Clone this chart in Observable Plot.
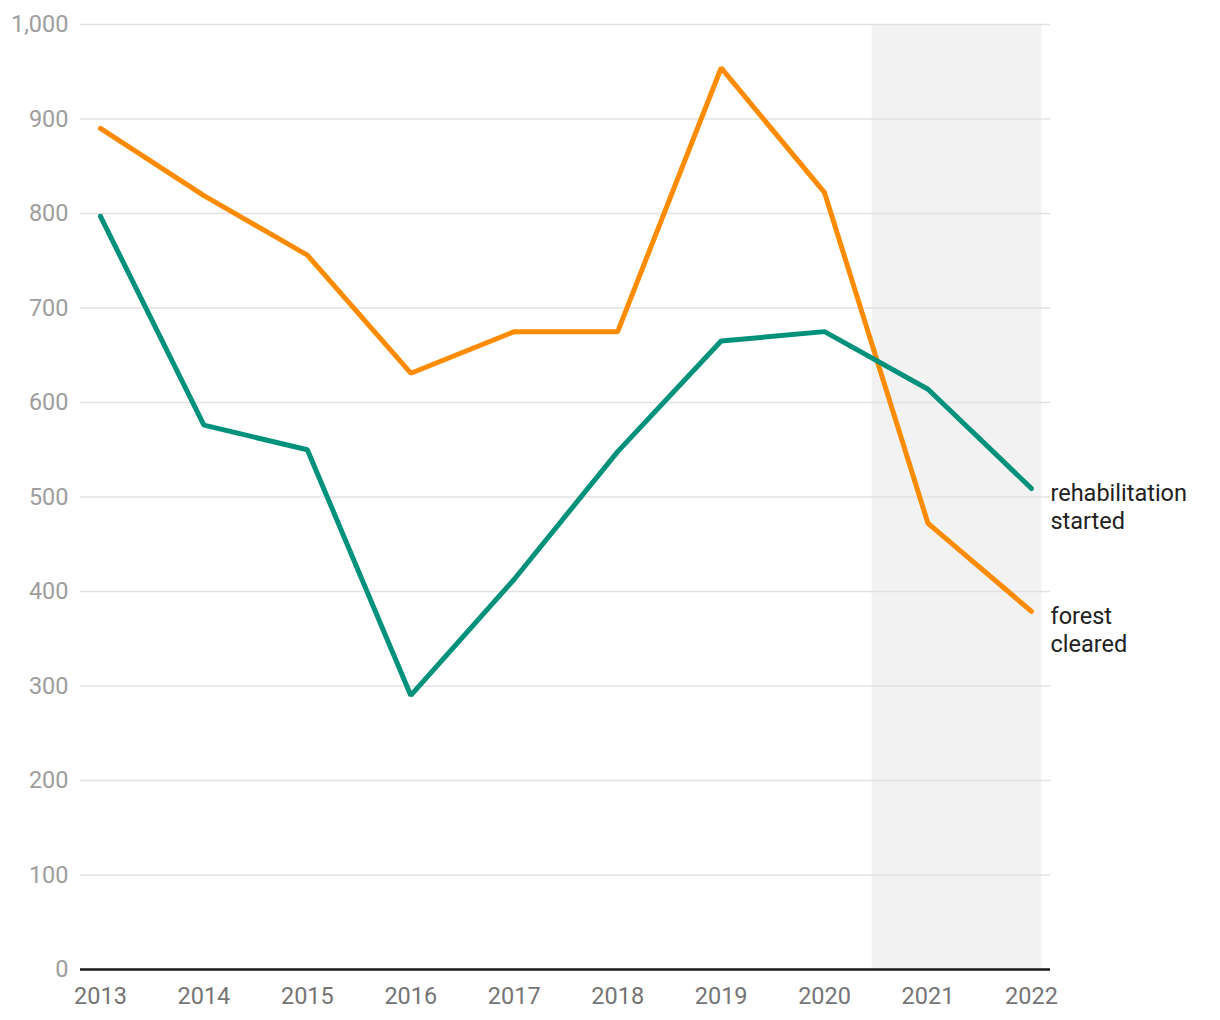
<!DOCTYPE html>
<html>
<head>
<meta charset="utf-8">
<script src="https://cdn.jsdelivr.net/npm/d3@7"></script>
<script src="https://cdn.jsdelivr.net/npm/@observablehq/plot@0.6"></script>
<style>
  html, body { margin: 0; padding: 0; background: #fff; }
  #chart svg { display: block; }
</style>
</head>
<body>
<div id="chart"></div>
<script>
const years = [2013, 2014, 2015, 2016, 2017, 2018, 2019, 2020, 2021, 2022];
const forestCleared = [890, 819, 756, 631, 675, 675, 954, 822, 472, 379];
const rehabilitationStarted = [797, 576, 550, 290, 413, 548, 665, 675, 614, 509];
const seriesNames = ["forest cleared", "rehabilitation started"];
const seriesLabels = ["forest\ncleared", "rehabilitation\nstarted"];
const seriesColors = ["#ff8c00", "#00917b"];
const yTicks = [0, 100, 200, 300, 400, 500, 600, 700, 800, 900, 1000];
const shadedRange = [2020.46, 2022.1];

const rows = [];
years.forEach((yr, i) => {
  rows.push({year: yr, value: forestCleared[i], series: seriesNames[0]});
  rows.push({year: yr, value: rehabilitationStarted[i], series: seriesNames[1]});
});
const lastRows = seriesNames.map((s, k) => ({
  year: years[years.length - 1],
  value: k === 0 ? forestCleared[forestCleared.length - 1] : rehabilitationStarted[rehabilitationStarted.length - 1],
  label: seriesLabels[k]
}));

const chart = Plot.plot({
  width: 1220,
  height: 1020,
  marginLeft: 80,
  marginRight: 170,
  marginTop: 24,
  marginBottom: 51,
  style: {fontFamily: "Roboto, sans-serif", fontSize: "23.5px", background: "#fff"},
  x: {domain: [2012.807, 2022.184], ticks: years, tickFormat: d => String(d), label: null},
  y: {domain: [0, 1000], ticks: yTicks, label: null, tickFormat: d3.format(",")},
  color: {domain: seriesNames, range: seriesColors},
  marks: [
    Plot.rect([shadedRange], {x1: d => d[0], x2: d => d[1], y1: 0, y2: 1000, fill: "#f2f2f2"}),
    Plot.gridY(yTicks, {stroke: "#e2e2e2", strokeOpacity: 1, strokeWidth: 1.5}),
    Plot.axisY(yTicks, {tickSize: 0, tickPadding: 12, fill: "#9e9e9e", fontSize: 23.5, tickFormat: d3.format(",")}),
    Plot.axisX(years, {tickSize: 0, tickPadding: 18, fill: "#757575", fontSize: 23.5, tickFormat: d => String(d)}),
    Plot.ruleY([0], {stroke: "#1a1a1a", strokeWidth: 2.5}),
    Plot.line(rows, {x: "year", y: "value", z: "series", stroke: "series", strokeWidth: 5, strokeLinejoin: "miter", strokeLinecap: "round"}),
    Plot.text(lastRows, {x: "year", y: "value", text: "label", textAnchor: "start", lineAnchor: "top", dx: 19, dy: -7, fill: "#222", fontSize: 23.5, lineHeight: 1.19})
  ]
});
document.getElementById("chart").append(chart);
</script>
</body>
</html>
